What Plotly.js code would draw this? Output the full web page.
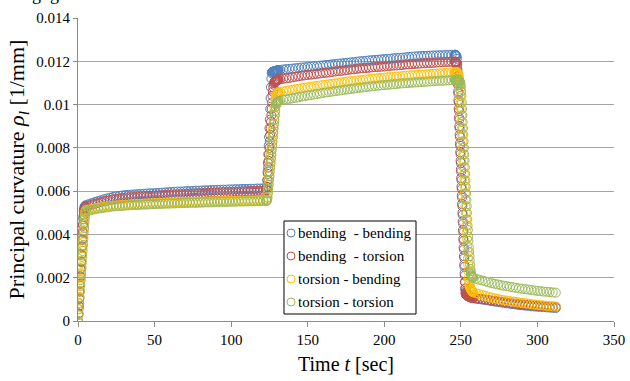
<!DOCTYPE html>
<html>
<head>
<meta charset="utf-8">
<script src="https://cdn.plot.ly/plotly-3.0.1.min.js"></script>
<style>html,body{margin:0;padding:0;background:#fff;}#chart{width:630px;height:381px;}</style>
</head>
<body>
<div id="chart"></div>
<script>
// Time stamps [sec]
var timeSec = [
0,0.25,0.5,0.75,1,1.25,1.5,1.75,2,2.25,2.5,2.75,3,3.25,3.5,3.75,4,4.25,4.5,4.75,
5,7,9,11,13,15,17,19,21,23,25,27,29,31,33,35,37,39,41,43,45,47,49,51,53,55,57,59,61,63,
65,67,69,71,73,75,77,79,81,83,85,87,89,91,93,95,97,99,101,103,105,107,109,111,113,115,117,119,121,123,
123.25,123.5,123.75,124,124.25,124.5,124.75,125,125.25,125.5,125.75,126,126.25,126.5,126.75,127,
127.25,127.5,127.75,128,128.25,128.5,128.75,129,129.25,129.5,129.75,130,130.25,130.5,130.75,131,
132,134,136,138,140,142,144,146,148,150,152,154,156,158,160,162,164,166,168,170,172,174,176,178,180,182,184,186,188,190,
192,194,196,198,200,202,204,206,208,210,212,214,216,218,220,222,224,226,228,230,232,234,236,238,240,242,244,246,
246.2,246.4,246.6,246.8,247,247.2,247.4,247.6,247.8,248,248.2,248.4,248.6,248.8,249,249.2,249.4,249.6,249.8,250,
250.2,250.4,250.6,250.8,251,251.2,251.4,251.6,251.8,252,252.2,252.4,252.6,252.8,253,253.2,253.4,253.6,253.8,254,
254.2,254.4,254.6,254.8,255,255.2,255.4,255.6,255.8,256,256.2,256.4,256.6,256.8,257,257.2,257.4,257.6,257.8,258,
260,262,264,266,268,270,272,274,276,278,280,282,284,286,288,290,292,294,296,298,300,302,304,306,308,310,312
];

// Principal curvature [1/mm]
var bendingBending = [
0,.00035,.0007,.00104,.00138,.00173,.00207,.00242,.00276,.0031,.00345,.0038,.00414,.00448,.0048,.0051,.0052,.00527,.0053,.00532,
.00535,.0054,.00545,.0055,.00554,.00558,.00562,.00566,.0057,.00573,.00576,.00578,.0058,.00582,.00583,.00584,.00585,.00586,.00587,.00588,
.00589,.0059,.0059,.00591,.00592,.00593,.00594,.00595,.00596,.00597,.00598,.00598,.00599,.006,.006,.00601,.00602,.00602,.00603,.00604,
.00604,.00605,.00605,.00606,.00606,.00607,.00607,.00608,.00608,.00609,.00609,.0061,.0061,.0061,.00611,.00611,.00612,.00612,.00613,.00614,
.0062,.0065,.0069,.0073,.0077,.0081,.0085,.0089,.0093,.0098,.0103,.0108,.0112,.01145,.0115,.01151,
.01152,.01152,.01153,.01153,.01154,.01154,.01155,.01155,.01156,.01156,.01157,.01157,.01158,.01158,.01159,.01159,
.0116,.01162,.01164,.01165,.01166,.01168,.01169,.01171,.01172,.01174,.01175,.01177,.01178,.0118,.01181,.01183,.01184,.01186,.01187,.01189,
.0119,.01192,.01193,.01195,.01196,.01198,.012,.01201,.01202,.01204,.01205,.01206,.01207,.01209,.0121,.01211,.01212,.01214,.01215,.01216,
.01217,.01218,.0122,.01221,.01222,.01223,.01224,.01225,.01225,.01226,.01227,.01227,.01228,.01228,.01229,.01229,.0123,.0123,
.0123,.0123,.01229,.01228,.01226,.01222,.01212,.0119,.0116,.0113,.0109,.0105,.0101,.0097,.0093,.0089,.0085,.0081,.0077,.0073,
.0069,.0065,.0061,.0057,.0053,.0049,.0045,.0041,.0037,.0033,.0029,.0025,.0021,.0018,.0015,.0014,.00135,.00131,.00128,.00125,
.00123,.00121,.00119,.00117,.00116,.00115,.00114,.00113,.00112,.00111,.0011,.0011,.00109,.00108,.00108,.00107,.00107,.00106,.00106,.00105,
.00103,.00101,.00099,.00097,.00095,.00092,.0009,.00088,.00086,.00084,.00082,.0008,.00078,.00076,.00074,.00073,.00071,.0007,.00068,.00067,
.00066,.00065,.00064,.00063,.00062,.00061,.0006
];

var bendingTorsion = [
0,.00034,.00068,.00102,.00136,.0017,.00204,.00238,.00272,.00306,.0034,.00374,.00408,.0044,.0047,.0049,.00505,.00515,.0052,.00524,
.00528,.00533,.00538,.00542,.00546,.0055,.00553,.00556,.00559,.00562,.00564,.00566,.00568,.0057,.00571,.00572,.00573,.00574,.00575,.00576,
.00577,.00578,.00578,.00579,.0058,.00581,.00582,.00583,.00583,.00584,.00585,.00586,.00586,.00587,.00588,.00588,.00589,.0059,.0059,.00591,
.00592,.00592,.00593,.00593,.00594,.00595,.00595,.00596,.00596,.00597,.00597,.00598,.00599,.00599,.006,.006,.00601,.00601,.00602,.00603,
.00605,.0062,.0065,.0068,.0071,.0074,.0077,.008,.0083,.0086,.0089,.0092,.0095,.0098,.0101,.0104,
.0106,.0108,.01092,.011,.01104,.01106,.01107,.01108,.01109,.0111,.01111,.01112,.01113,.01114,.01115,.01116,
.01117,.01119,.01121,.01123,.01126,.01128,.01131,.01133,.01135,.01137,.01138,.0114,.01142,.01144,.01146,.01147,.01149,.01151,.01153,.01155,
.01156,.01158,.0116,.01162,.01163,.01165,.01167,.01168,.01169,.0117,.01172,.01173,.01174,.01175,.01176,.01178,.01179,.0118,.01181,.01182,
.01183,.01185,.01186,.01187,.01188,.01189,.0119,.01191,.01192,.01192,.01193,.01194,.01195,.01196,.01197,.01197,.01198,.01198,
.01198,.01198,.01197,.01196,.01194,.0119,.0118,.0116,.0113,.011,.0106,.0102,.0098,.0094,.009,.0086,.0082,.0078,.0074,.007,
.0066,.0062,.0058,.0054,.005,.0046,.0042,.0038,.0034,.003,.0026,.0022,.0018,.0015,.0013,.00125,.00122,.0012,.00119,.00118,
.00117,.00116,.00115,.00115,.00114,.00113,.00113,.00112,.00112,.00111,.00111,.0011,.0011,.00109,.00109,.00108,.00108,.00108,.00107,.00107,
.00105,.00103,.00101,.00099,.00097,.00095,.00093,.00091,.00089,.00087,.00085,.00083,.00081,.0008,.00078,.00077,.00075,.00074,.00073,.00071,
.0007,.00069,.00068,.00067,.00066,.00066,.00065
];

var torsionBending = [
0,.00028,.00056,.00084,.00112,.0014,.00168,.00196,.00224,.00252,.0028,.00308,.00336,.00364,.00392,.0042,.00446,.0047,.0049,.00505,
.00512,.00515,.00518,.00521,.00523,.00525,.00527,.00529,.00531,.00533,.00534,.00535,.00536,.00537,.00538,.00539,.0054,.0054,.00541,.00542,
.00542,.00543,.00544,.00544,.00545,.00545,.00546,.00546,.00547,.00547,.00548,.00548,.00549,.00549,.0055,.0055,.0055,.00551,.00551,.00552,
.00552,.00552,.00553,.00553,.00554,.00554,.00554,.00555,.00555,.00555,.00556,.00556,.00556,.00557,.00557,.00557,.00558,.00558,.00558,.00559,
.0056,.0057,.0059,.0061,.0063,.0065,.0067,.0069,.0071,.0073,.0075,.0077,.0079,.0081,.0083,.0085,
.0087,.0089,.0091,.0093,.0095,.0097,.0099,.0101,.0103,.01042,.01047,.0105,.01052,.01054,.01055,.01056,
.01058,.01061,.01063,.01066,.01068,.01071,.01073,.01076,.01078,.0108,.01082,.01084,.01086,.01088,.0109,.01092,.01094,.01096,.01098,.011,
.01102,.01104,.01106,.01108,.01109,.01111,.01113,.01114,.01116,.01117,.01119,.0112,.01122,.01123,.01124,.01126,.01127,.01128,.01129,.0113,
.01132,.01133,.01134,.01135,.01136,.01137,.01138,.01139,.0114,.01141,.01142,.01143,.01144,.01145,.01146,.01147,.01148,.01149,
.01149,.01149,.0115,.0115,.0115,.0115,.0115,.01149,.01148,.01146,.01143,.01138,.0113,.0112,.0111,.0109,.0107,.0104,.0101,.0098,
.0095,.0092,.0089,.0086,.0083,.008,.0077,.0074,.0071,.0068,.0065,.0062,.0059,.0056,.0053,.005,.0047,.0044,.0041,.0038,
.0035,.0032,.0029,.0026,.0023,.002,.0018,.00168,.0016,.00155,.00151,.00148,.00145,.00143,.00141,.00139,.00137,.00136,.00134,.00133,
.00128,.00124,.0012,.00116,.00112,.00108,.00105,.00102,.00099,.00096,.00094,.00092,.0009,.00088,.00086,.00084,.00082,.0008,.00078,.00076,
.00075,.00073,.00072,.0007,.00069,.00068,.00067
];

var torsionTorsion = [
0,.00027,.00054,.00081,.00108,.00135,.00162,.00189,.00216,.00243,.0027,.00297,.00324,.00351,.00378,.00405,.0043,.00455,.00478,.00498,
.00507,.0051,.00513,.00516,.00519,.00521,.00523,.00525,.00527,.00529,.0053,.00531,.00532,.00533,.00534,.00535,.00536,.00536,.00537,.00538,
.00538,.00539,.0054,.0054,.00541,.00541,.00542,.00542,.00543,.00543,.00544,.00544,.00545,.00545,.00546,.00546,.00546,.00547,.00547,.00548,
.00548,.00548,.00549,.00549,.0055,.0055,.0055,.00551,.00551,.00551,.00552,.00552,.00552,.00553,.00553,.00553,.00554,.00554,.00554,.00555,
.00555,.0056,.0057,.0059,.0061,.0063,.0065,.0067,.0069,.0071,.0073,.0075,.0077,.0079,.0081,.0083,
.0085,.0087,.0089,.0091,.0093,.0095,.0097,.0099,.01,.01005,.01008,.0101,.01012,.01014,.01015,.01016,
.01018,.01021,.01024,.01026,.01029,.01031,.01034,.01037,.01039,.01042,.01044,.01047,.01049,.01051,.01054,.01056,.01058,.0106,.01062,.01064,
.01066,.01068,.0107,.01072,.01074,.01076,.01078,.01079,.01081,.01083,.01084,.01086,.01087,.01089,.0109,.01091,.01093,.01094,.01095,.01097,
.01098,.01099,.011,.01101,.01102,.01103,.01104,.01105,.01106,.01107,.01108,.01109,.0111,.0111,.01111,.01112,.01113,.01114,
.01114,.01114,.01115,.01115,.01115,.01115,.01115,.01115,.01115,.01115,.01114,.01114,.01113,.01112,.0111,.01107,.01103,.01098,.0109,.0108,
.0106,.0104,.0101,.0098,.0095,.0092,.0089,.0086,.0083,.008,.0077,.0074,.0071,.0068,.0065,.0062,.0059,.0056,.0053,.005,
.0047,.0044,.0042,.0039,.0037,.0034,.0032,.003,.0028,.0026,.0024,.0023,.0022,.00214,.0021,.00207,.00204,.00202,.002,.00199,
.00195,.00191,.00187,.00183,.00179,.00175,.00172,.00169,.00166,.00163,.00161,.00158,.00156,.00153,.00151,.00149,.00147,.00145,.00143,.00141,
.00139,.00138,.00136,.00135,.00134,.00132,.00131
];

var seriesNames = ["bending\u00a0 - bending", "bending\u00a0 - torsion", "torsion - bending", "torsion - torsion"];
var seriesColors = ["#4F81BD", "#C0504D", "#FFC000", "#9BBB59"];
var seriesValues = [bendingBending, bendingTorsion, torsionBending, torsionTorsion];

var serif = "Liberation Serif";

var traces = seriesValues.map(function (vals, i) {
  return {
    x: timeSec,
    y: vals,
    type: "scatter",
    mode: "markers",
    name: seriesNames[i],
    showlegend: false,
    marker: {symbol: "circle-open", size: 9, color: seriesColors[i], line: {width: 1, color: seriesColors[i]}},
    hoverinfo: "x+y"
  };
});

// Legend box (drawn as shapes + annotations so the symbol/text spacing matches)
var legX0 = 0.3843, legX1 = 0.6306, legY0 = 0.0231, legY1 = 0.330;
var legRowY = [0.2904, 0.2145, 0.1386, 0.0627];
var legSymX = 0.3974, legTextX = 0.4060;

var shapes = [{
  type: "rect", xref: "paper", yref: "paper",
  x0: legX0, x1: legX1, y0: legY0, y1: legY1,
  line: {color: "#000000", width: 1}, fillcolor: "#ffffff", layer: "above"
}];
var annotations = [];
seriesNames.forEach(function (nm, i) {
  shapes.push({
    type: "circle", xref: "paper", yref: "paper",
    xsizemode: "pixel", ysizemode: "pixel",
    xanchor: legSymX, yanchor: legRowY[i],
    x0: -4, x1: 4, y0: -4, y1: 4,
    line: {color: seriesColors[i], width: 1}, fillcolor: "rgba(0,0,0,0)", layer: "above"
  });
  annotations.push({
    xref: "paper", yref: "paper", x: legTextX, y: legRowY[i],
    xanchor: "left", yanchor: "middle", showarrow: false,
    text: nm, font: {family: serif, size: 15, color: "#000000"}
  });
});
annotations.push({
  xref: "paper", yref: "paper", x: -0.06, y: 1.079,
  xanchor: "center", yanchor: "middle",
  text: "g&nbsp;&nbsp;g", showarrow: false,
  font: {family: serif, size: 18, color: "#000000"}
});

var layout = {
  width: 630,
  height: 381,
  margin: {l: 78, r: 16, t: 18, b: 60, pad: 0},
  paper_bgcolor: "#ffffff",
  plot_bgcolor: "#ffffff",
  font: {family: serif, size: 15, color: "#000000"},
  showlegend: false,
  xaxis: {
    range: [0, 350],
    dtick: 50,
    tick0: 0,
    showgrid: false,
    zeroline: false,
    showline: true,
    linecolor: "#8c8c8c",
    linewidth: 1,
    ticks: "outside",
    ticklen: 5,
    tickcolor: "#8c8c8c",
    tickfont: {family: serif, size: 15, color: "#000000"},
    title: {text: "Time <i>t</i> [sec]", font: {family: serif, size: 20, color: "#000000"}, standoff: 9}
  },
  yaxis: {
    range: [0, 0.014],
    dtick: 0.002,
    tick0: 0,
    showgrid: true,
    gridcolor: "#a6a6a6",
    gridwidth: 1,
    zeroline: false,
    showline: true,
    linecolor: "#8c8c8c",
    linewidth: 1,
    ticks: "outside",
    ticklen: 4,
    tickcolor: "#8c8c8c",
    tickfont: {family: serif, size: 15, color: "#000000"},
    title: {text: "Principal curvature <i>ρ<sub>l</sub></i> [1/mm]", font: {family: serif, size: 22, color: "#000000"}, standoff: 5}
  },
  shapes: shapes,
  annotations: annotations
};

Plotly.newPlot("chart", traces, layout, {displayModeBar: false, staticPlot: true});
</script>
</body>
</html>
